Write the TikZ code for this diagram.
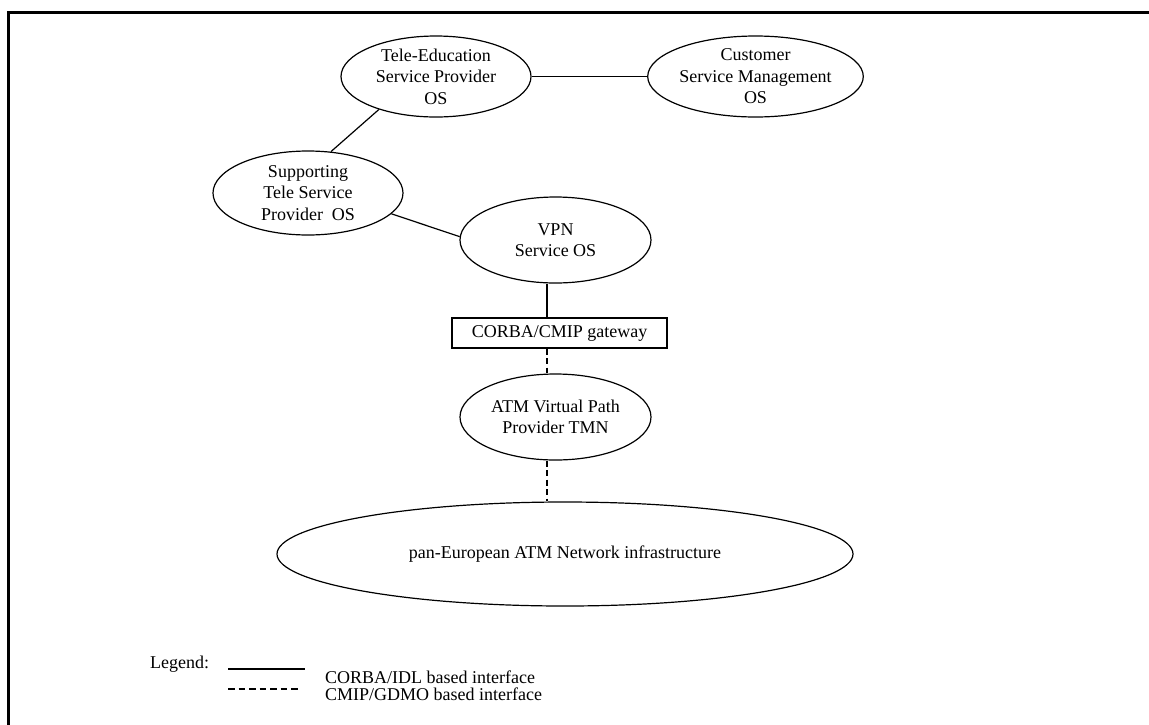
\documentclass[tikz,border=0pt]{standalone}
\usepackage{fontspec}
\setmainfont{Liberation Serif}
\usetikzlibrary{shapes.geometric}
\begin{document}
\begin{tikzpicture}[x=1pt,y=-1pt,
  every node/.style={font=\fontsize{18}{21.5}\selectfont, align=center},
  oval/.style={ellipse, draw, line width=1.2pt, inner sep=0pt},
  gatebox/.style={rectangle, draw, line width=1.2pt, inner sep=0pt},
  solidlink/.style={line width=1.2pt},
  dashlink/.style={line width=2pt, dash pattern=on 6pt off 3.5pt},
  legdash/.style={line width=1.6pt, dash pattern=on 6.5pt off 4pt},
  legtext/.style={anchor=base west, inner sep=0pt},
]
\useasboundingbox (0,0) rectangle (1149,724);
% outer frame, open past the right and bottom edges
\draw[line width=2.7pt] (8.5,12.5) rectangle (1200,780);

% operations systems
\node[oval, minimum width=190, minimum height=81] (tes) at (436,76.5) {Tele-Education\\Service Provider\\OS};
\node[oval, minimum width=190, minimum height=81] (csm) at (755.5,76.5) {Customer\\Service Management\\OS};
\node[oval, minimum width=190, minimum height=84] (sts) at (308,193) {Supporting\\Tele Service\\Provider\ \ OS};
\node[oval, minimum width=191, minimum height=86] (vpn) at (555.5,240) {VPN\\Service OS};
\node[gatebox, minimum width=215, minimum height=30] (gw) at (559.5,333) {CORBA/CMIP gateway};
\node[oval, minimum width=191, minimum height=86] (atm) at (555.5,417) {ATM Virtual Path\\Provider TMN};
\node[oval, minimum width=576, minimum height=104] (pan) at (565,554) {pan-European ATM Network infrastructure};

% column of the vertical interfaces
\coordinate (col) at (547,0);

% interfaces
\draw[solidlink] (tes) -- (csm);
\draw[solidlink] (tes.210) -- (sts.61);
\draw[solidlink] (sts.-14) -- (vpn.178);
\draw[solidlink] (vpn.south -| col) -- (gw.north -| col);
\draw[dashlink] (gw.south -| col) -- (atm.north -| col);
\draw[dashlink] (atm.south -| col) -- (pan.north -| col);

% legend
\node[legtext] (leg) at (150,668) {Legend:};
\coordinate (sa) at (228,669);
\coordinate (sb) at (305,669);
\draw[solidlink] (sa) -- (sb);
\node[legtext] (lsolid) at (325,683) {CORBA/IDL based interface};
\coordinate (da) at (228,689);
\coordinate (db) at (298,689);
\draw[legdash] (da) -- (db);
\node[legtext] (ldash) at (325,700) {CMIP/GDMO based interface};
\end{tikzpicture}
\end{document}
